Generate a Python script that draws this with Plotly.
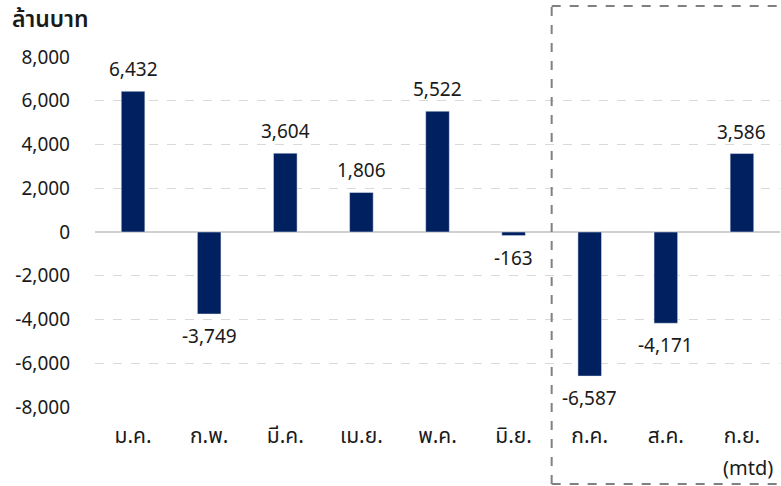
import plotly.graph_objects as go

categories = ["ม.ค.", "ก.พ.", "มี.ค.", "เม.ย.", "พ.ค.", "มิ.ย.", "ก.ค.", "ส.ค.", "ก.ย."]
last_note = "(mtd)"
values = [6432, -3749, 3604, 1806, 5522, -163, -6587, -4171, 3586]
tick_vals = [-8000, -6000, -4000, -2000, 0, 2000, 4000, 6000, 8000]
tick_text = [f"{v:,}" for v in tick_vals]
labels = [f"{v:,}" for v in values]

FONT = "Tahoma, 'Noto Sans Thai', 'Noto Sans', sans-serif"
TXT = "#1a1a1a"

fig = go.Figure(go.Bar(
    x=list(range(len(categories))), y=values,
    marker_color="#002060", width=0.31,
))

annotations = []
for i, (v, lab) in enumerate(zip(values, labels)):
    annotations.append(dict(
        text=lab, x=i, y=v, xref="x", yref="y", showarrow=False,
        yanchor="bottom" if v >= 0 else "top",
        yshift=4 if v >= 0 else -7,
        font=dict(size=19, family=FONT, color=TXT),
    ))

annotations += [
    dict(
        text="ล้านบาท", xref="paper", yref="paper", x=-95/685 + 10/685, y=1 + 37/350,
        xanchor="left", yanchor="middle", showarrow=False,
        font=dict(size=23, family=FONT, color=TXT, weight=600),
    ),
    dict(
        text=last_note, xref="x", yref="paper", x=len(categories) - 1, xshift=6,
        y=(407 - 469) / 350, xanchor="center", yanchor="middle", showarrow=False,
        font=dict(size=20, family=FONT, color=TXT),
    ),
]

fig.update_layout(
    width=781, height=486,
    margin=dict(l=95, r=1, t=57, b=79),
    paper_bgcolor="white", plot_bgcolor="white",
    showlegend=False,
    font=dict(family=FONT, color=TXT),
    xaxis=dict(
        tickmode="array", tickvals=list(range(len(categories))), ticktext=categories,
        range=[-0.5, len(categories) - 0.5], showgrid=False, zeroline=False,
        tickfont=dict(size=21, family=FONT), ticks="", showline=False,
        ticklabelstandoff=14,
    ),
    yaxis=dict(
        tickmode="array", tickvals=tick_vals, ticktext=tick_text,
        range=[-8000, 8000], showgrid=True, gridcolor="#d9d9d9", griddash="dash",
        gridwidth=1, zeroline=True, zerolinecolor="#d0d0d0", zerolinewidth=2,
        tickfont=dict(size=19, family=FONT), ticklabelstandoff=24,
    ),
    annotations=annotations,
)

box_style = dict(color="#808080", width=2, dash="dash")
y_top = (407 - 6) / 350
y_bot = (407 - 484) / 350
fig.add_shape(type="line", xref="x", yref="paper", x0=5.5, x1=5.5, y0=y_bot, y1=y_top, line=box_style)
fig.add_shape(type="line", xref="x", yref="paper", x0=5.5, x1=8.5, y0=y_top, y1=y_top, line=box_style)
fig.add_shape(type="line", xref="x", yref="paper", x0=5.5, x1=8.5, y0=y_bot, y1=y_bot, line=box_style)

fig.write_html("out.html")
